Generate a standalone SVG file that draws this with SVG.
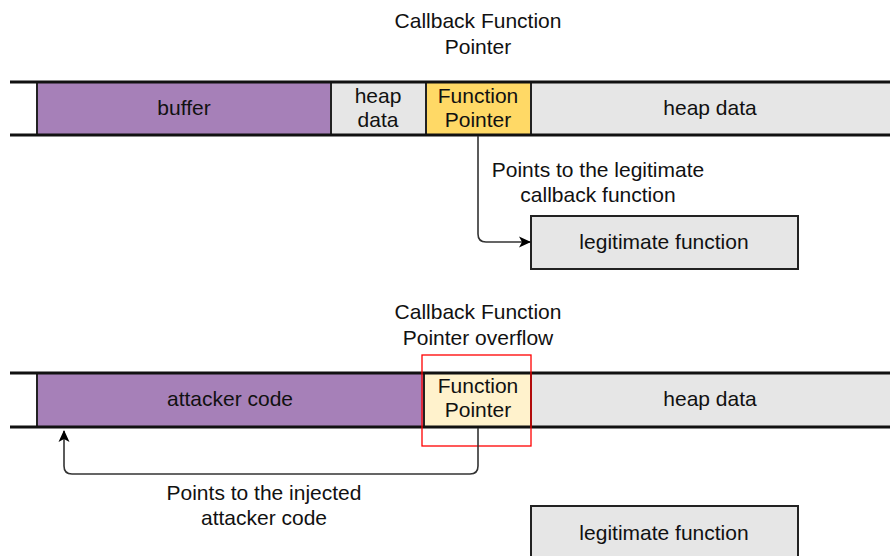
<svg xmlns="http://www.w3.org/2000/svg" width="890" height="556" viewBox="0 0 890 556">
<defs>
<style>
text{font-family:"Liberation Sans",Arial,Helvetica,sans-serif;font-size:21px;fill:#111;text-anchor:middle}
.cell{stroke:#222;stroke-width:2}
.rail{stroke:#111;stroke-width:3;fill:none}
.conn{stroke:#333;stroke-width:1.6;fill:none}
</style>
<marker id="ah" markerWidth="14" markerHeight="14" refX="12" refY="7" orient="auto" markerUnits="userSpaceOnUse">
<path d="M1,1.5 L13,7 L1,12.5 L4,7 Z" fill="#000"/>
</marker>
</defs>
<rect width="890" height="556" fill="#fff"/>

<g id="title-top"><text x="478" y="28">Callback Function</text><text x="478" y="54">Pointer</text></g>

<g id="mem-top">
<rect class="cell" x="37" y="82" width="294" height="53" fill="#A680B8"/>
<rect class="cell" x="331" y="82" width="95" height="53" fill="#E6E6E6"/>
<rect class="cell" x="426" y="82" width="105" height="53" fill="#FFD966"/>
<rect class="cell" x="531" y="82" width="362" height="53" fill="#E6E6E6"/>
<line class="rail" x1="10" y1="82" x2="890" y2="82"/>
<line class="rail" x1="10" y1="135" x2="890" y2="135"/>
<text x="184" y="115">buffer</text>
<text x="378" y="103">heap</text><text x="378" y="127">data</text>
<text x="478" y="103">Function</text><text x="478" y="127">Pointer</text>
<text x="710" y="115">heap data</text>
</g>

<g id="legit-top"><rect class="cell" x="531" y="216" width="267" height="53" fill="#E6E6E6"/><text x="664" y="249">legitimate function</text></g>

<g id="title-bottom"><text x="478" y="319">Callback Function</text><text x="478" y="345">Pointer overflow</text></g>

<g id="mem-bottom">
<rect class="cell" x="37" y="373" width="387" height="54" fill="#A680B8"/>
<rect class="cell" x="424" y="373" width="107" height="54" fill="#FFF2CC"/>
<rect class="cell" x="531" y="373" width="362" height="54" fill="#E6E6E6"/>
<line class="rail" x1="10" y1="373" x2="890" y2="373"/>
<line class="rail" x1="10" y1="427" x2="890" y2="427"/>
<text x="230" y="406">attacker code</text>
<text x="478" y="393">Function</text><text x="478" y="417">Pointer</text>
<text x="710" y="406">heap data</text>
</g>

<g id="overflow-mark"><rect x="422" y="355" width="109" height="91" fill="none" stroke="#FF0000" stroke-width="1.3"/></g>

<g id="legit-bottom"><rect class="cell" x="531" y="506" width="267" height="60" fill="#E6E6E6"/><text x="664" y="540">legitimate function</text></g>

<g id="connectors">
<path class="conn" d="M478,136 V234 Q478,242 486,242 H530" marker-end="url(#ah)"/>
<text x="598" y="177">Points to the legitimate</text><text x="598" y="202">callback function</text>
<path class="conn" d="M478,428 V466 Q478,474 470,474 H72 Q64,474 64,466 V431" marker-end="url(#ah)"/>
<text x="264" y="500">Points to the injected</text><text x="264" y="525">attacker code</text>
</g>
</svg>
